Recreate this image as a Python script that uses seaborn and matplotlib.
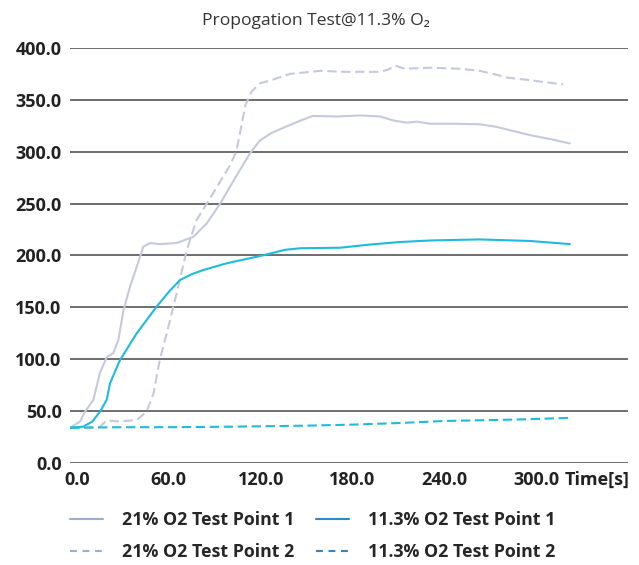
import matplotlib
matplotlib.use("Agg")
import matplotlib.pyplot as plt
from matplotlib.lines import Line2D
import seaborn as sns
import pandas as pd

# ---- data ----
t_21_p1 = [-4.5, 2, 5, 10.7, 15, 19.4, 23.7, 27, 30.3, 34.6, 39, 43.3, 47.7, 54, 65, 76, 84.8,
           93.5, 103, 113, 119.6, 127, 134.6, 146, 154, 170, 185, 198, 207, 215.5, 222, 230.7,
           245, 263, 274, 285, 296, 310, 322]
v_21_p1 = [34, 40, 49, 61, 87, 102, 106, 118.5, 147, 170, 189, 208.5, 212, 211, 212, 218, 231,
           250, 274, 298.5, 311, 318, 323, 330, 334.5, 334, 335, 334, 330, 328, 329, 327,
           327, 326.5, 324, 320, 316, 312, 308]

t_21_p2 = [-4.5, 5, 15, 19.4, 28, 39, 45.5, 50, 54, 58.6, 64, 71.7, 78, 84.8, 93, 100, 104,
           107, 110, 114, 119.6, 127, 139, 159, 175, 198, 203, 208, 214, 230.7, 250, 263, 272, 281,
           296, 306, 317.6]
v_21_p2 = [34, 34, 35, 41, 40, 41.5, 49.5, 67, 99, 125, 157, 205, 234, 250, 270, 287, 300,
           322, 345, 358, 366, 369, 375, 378, 377, 377, 379, 383, 380, 381, 380, 378, 375, 371.5,
           369, 367, 365]

t_113_p1 = [-4.5, 4, 10, 15, 19.4, 21.6, 28, 39, 52, 60, 67.3, 75, 82.5, 97.8, 119.6, 136,
            146, 172, 191, 211, 231, 263, 296, 322]
v_113_p1 = [34, 35, 40, 49.5, 61, 77, 99, 125, 150.7, 165, 176.4, 182, 186, 192.5, 199.5, 205.5,
            207, 207.5, 210.5, 213, 214.5, 215.5, 214, 211]

t_113_p2 = [-4.5, 30, 60, 100, 150, 180, 210, 240, 290, 322]
v_113_p2 = [34, 34.5, 34.5, 35, 36, 37, 38.5, 40.5, 42, 43.5]

series_names = ["21% O2 Test Point 1", "21% O2 Test Point 2",
                "11.3% O2 Test Point 1", "11.3% O2 Test Point 2"]
x_ticks = [0, 60, 120, 180, 240, 300]
y_ticks = [0, 50, 100, 150, 200, 250, 300, 350, 400]

frames = []
for name, t, v in zip(series_names, [t_21_p1, t_21_p2, t_113_p1, t_113_p2],
                      [v_21_p1, v_21_p2, v_113_p1, v_113_p2]):
    frames.append(pd.DataFrame({"t": t, "v": v, "series": name}))
df = pd.concat(frames, ignore_index=True)

sns.set_style("white")
plt.rcParams["font.family"] = ["Open Sans", "DejaVu Sans"]

line_colors = {"21% O2 Test Point 1": "#c6c9dd", "21% O2 Test Point 2": "#c6c9dd",
               "11.3% O2 Test Point 1": "#1fbadc", "11.3% O2 Test Point 2": "#1fbadc"}
leg_colors = {"21% O2 Test Point 1": "#9badd4", "21% O2 Test Point 2": "#9badd4",
              "11.3% O2 Test Point 1": "#2d88c8", "11.3% O2 Test Point 2": "#2d88c8"}
dash_map = {"21% O2 Test Point 1": "", "21% O2 Test Point 2": (4.5, 2.2),
            "11.3% O2 Test Point 1": "", "11.3% O2 Test Point 2": (4.5, 2.2)}
leg_dash = (3.3, 2.7)

fig = plt.figure(figsize=(6.39, 5.65), dpi=100)
ax = fig.add_axes([70 / 639, 1 - 463 / 565, (628 - 70) / 639, (463 - 48) / 565])

sns.lineplot(data=df, x="t", y="v", hue="series", style="series", palette=line_colors,
             dashes=dash_map, estimator=None, linewidth=1.5, legend=False, ax=ax)

ax.set_xlim(-4.6, 360)
ax.set_ylim(0, 400)
ax.set_xticks(x_ticks)
ax.set_xticklabels([f"{x:.1f}" for x in x_ticks])
ax.set_yticks(y_ticks)
ax.set_yticklabels([f"{y:.1f}" for y in y_ticks])
ax.yaxis.grid(True, color="#555555", linewidth=1.2)
ax.xaxis.grid(False)
ax.set_axisbelow(True)
for s in ax.spines.values():
    s.set_visible(False)
ax.tick_params(axis="both", length=0, labelsize=13, colors="#222222")
ax.tick_params(axis="x", pad=6)
ax.tick_params(axis="y", pad=6)
for lab in ax.get_xticklabels() + ax.get_yticklabels():
    lab.set_fontweight("bold")
ax.set_xlabel("")
ax.set_ylabel("")

ax.text(340, -17 / 415, "Time[s]", transform=ax.get_xaxis_transform(), ha="center", va="center",
        fontsize=13, fontweight="bold", color="#222222")

fig.text(316 / 639, 1 - 21 / 565, "Propogation Test@11.3% O\u2082", ha="center", va="center",
         fontsize=12.6, color="#333333")

handles = [Line2D([0], [0], color=leg_colors[n], linewidth=1.5,
                  linestyle="-" if dash_map[n] == "" else (0, leg_dash)) for n in series_names]
fig.legend(handles, series_names, ncol=2, loc="upper left",
           bbox_to_anchor=(70 / 639, 1 - 511 / 565), frameon=False, borderpad=0,
           borderaxespad=0, handlelength=1.85, handletextpad=1.05, columnspacing=1.24,
           labelspacing=0.8, prop={"weight": "bold", "size": 12.8})

fig.savefig("out.png", dpi=100)
